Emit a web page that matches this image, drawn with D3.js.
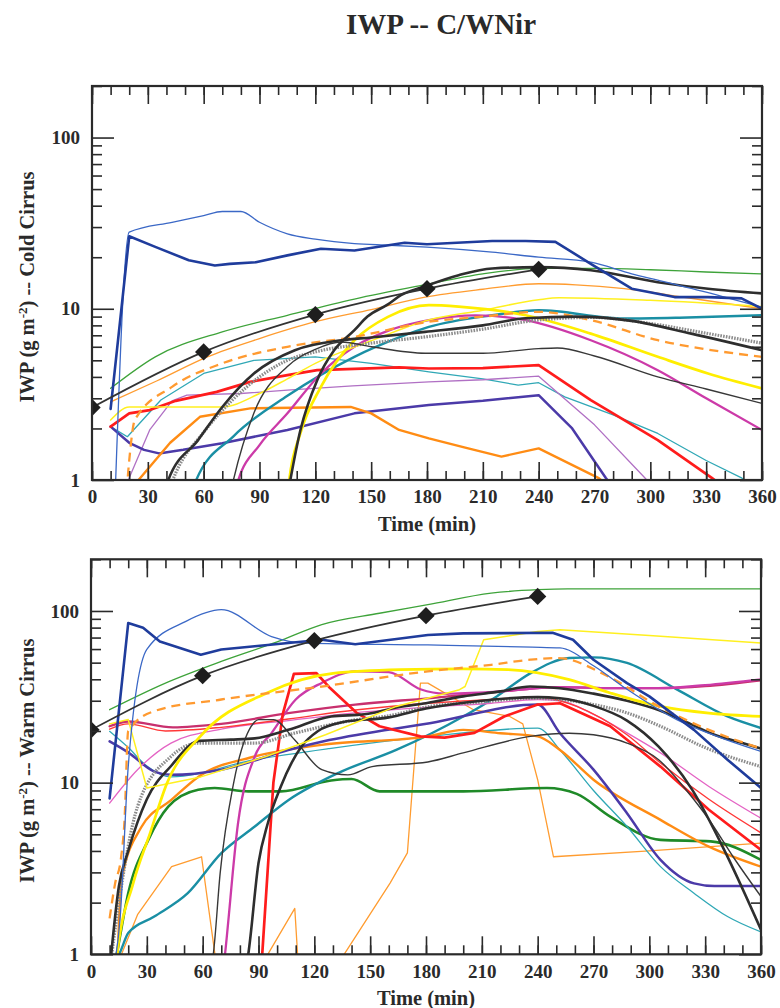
<!DOCTYPE html>
<html>
<head>
<meta charset="utf-8">
<script src="https://cdn.jsdelivr.net/npm/d3@7"></script>
<style>
  body { margin: 0; background: #fff; }
  svg { display: block; }
</style>
</head>
<body>
<svg id="chart" width="780" height="1008"></svg>
<script>
// ---------- axis values ----------
const timeTicks = [0, 30, 60, 90, 120, 150, 180, 210, 240, 270, 300, 330, 360];
const timeMinorTicks = d3.range(0, 361, 10);
const iwpTicks = [1, 10, 100];
const iwpMinorTicks = [2, 3, 4, 5, 6, 7, 8, 9, 20, 30, 40, 50, 60, 70, 80, 90, 200];

// ---------- Cold Cirrus: [time (min), IWP (g m^-2)] ----------
const coldBlueThick = [[10,2.6],[20,26.5],[34,23],[52,19.2],[66,17.9],[74,18.3],[88,18.7],[105,20.5],[123,22.4],[141,21.9],[168,24.3],[180,23.8],[215,24.9],[233,24.9],[249,24.6],[268,18.3],[290,13.1],[313,11.7],[331,11.7],[349,11.5],[360,10.0]];
const coldBlueThin = [[12,0.6],[20,28],[43,32],[60,35],[70,37],[80,37],[90,32],[105,27.4],[120,25.5],[141,24],[160,23.5],[180,22.9],[215,21.4],[240,20],[268,18.7],[290,16],[304,14.7],[330,12.5],[360,10.2]];
const coldGreen = [[10,3.43],[34,5.24],[70,7.33],[105,9.16],[141,11.4],[177,13.7],[210,16.0],[240,17.2],[272,17.2],[300,16.9],[330,16.4],[360,16.0]];
const coldDiamond = [[0,2.65],[60,5.6],[120,9.25],[180,13.1],[240,17.0]];
const coldBlackSteep = [[104,0.7],[112,1.96],[121,3.83],[130,5.7],[141,7.5],[148,9.0],[159,10.6],[166,12],[177,13.3],[197,15.7],[215,17.2],[240,17.5],[268,16.8],[304,14.3],[331,13.1],[360,12.3]];
const coldBlackSat = [[38,0.8],[41,1],[57,1.71],[70,2.67],[87,4.19],[109,5.73],[134,6.55],[150,6.8],[179,7.33],[210,8.0],[233,8.8],[260,9.0],[290,8.5],[322,7.16],[360,5.73]];
const coldGrayDotted = [[40,0.8],[45,1.1],[60,1.9],[75,2.9],[90,4.0],[105,5.0],[120,5.6],[150,6.3],[179,6.85],[210,7.6],[240,8.6],[270,8.9],[300,8.2],[330,7.2],[360,6.3]];
const coldBlackThin = [[74,0.8],[76,1],[87,2.46],[105,4.6],[120,5.8],[134,6.4],[150,6.0],[179,5.5],[210,5.5],[240,5.85],[250,5.9],[270,5.3],[304,4.0],[330,3.4],[360,2.8]];
const coldOrangeThin = [[10,2.86],[35,3.8],[62,5.24],[90,6.7],[120,8.4],[150,9.9],[179,11.7],[210,13.0],[240,14.0],[260,13.8],[286,13.1],[320,11.6],[360,10.0]];
const coldYellowThin = [[10,2.24],[20,2.67],[45,2.67],[70,2.67],[90,3.2],[105,3.9],[120,4.8],[150,6.5],[181,8.6],[210,9.8],[240,11.3],[251,11.6],[300,11.2],[360,10.3]];
const coldYellowThick = [[105,0.8],[106,1],[112,1.88],[123,3.5],[141,6.55],[159,8.97],[181,10.5],[197,10.3],[233,9.16],[268,7.16],[304,5.24],[331,4.19],[360,3.43]];
const coldOrangeDashed = [[18,0.7],[20,1.3],[23,2.24],[43,3.5],[70,4.8],[105,6.0],[141,6.85],[181,8.4],[210,9.0],[240,9.6],[268,8.58],[304,6.55],[330,5.8],[360,5.24]];
const coldTealThin = [[10,2.05],[19,1.79],[37,2.93],[60,4.19],[87,5.0],[120,5.24],[150,4.8],[181,4.28],[210,3.9],[229,3.58],[240,3.7],[254,3.06],[280,2.4],[304,1.87],[330,1.3],[349,1.03],[355,0.9]];
const coldRed = [[10,2.05],[20,2.45],[31,2.56],[45,2.9],[67,3.27],[85,3.74],[105,4.1],[121,4.38],[165,4.55],[181,4.48],[210,4.5],[240,4.69],[268,2.93],[304,1.71],[333,1.03],[340,0.9]];
const coldPurpleThin = [[17,0.7],[19.5,1],[31,1.96],[43,2.9],[51,3.13],[80,3.2],[105,3.35],[140,3.55],[181,3.74],[210,3.85],[240,4.04],[270,2.1],[297,1.03],[300,0.95]];
const coldMagenta = [[76,0.8],[78.6,1],[90,1.6],[105,2.45],[123,4.19],[141,6.0],[160,7.5],[181,8.58],[206,9.16],[233,8.58],[268,6.55],[304,4.38],[330,3.0],[360,1.96]];
const coldIndigo = [[10,2.05],[20,1.65],[28,1.5],[36,1.43],[49,1.5],[70,1.64],[105,1.96],[141,2.45],[181,2.74],[210,2.9],[240,3.13],[258,2.0],[276,1.03],[280,0.9]];
const coldOrangeThick = [[22,0.8],[25,1],[42,1.65],[58,2.34],[85,2.62],[139,2.67],[150,2.45],[165,1.96],[181,1.75],[200,1.55],[220,1.37],[240,1.53],[272,1.03],[276,0.95]];
const coldTealThick = [[54,0.8],[56,1],[76,1.8],[105,3.1],[141,5.24],[165,6.8],[181,7.83],[215,9.16],[240,9.8],[286,8.77],[320,8.9],[360,9.16]];

// ---------- Warm Cirrus: [time (min), IWP (g m^-2)] ----------
const warmGreenThin = [[10,26.6],[40,38],[70,50.8],[100,66],[124,83.3],[155,97],[181,108.8],[215,127],[240,133],[256,134.5],[300,134.5],[360,134.5]];
const warmDiamond = [[0,20.3],[60,42],[120,67.2],[180,93.9],[240,121.6]];
const warmBlueThick = [[10,8.1],[20,85],[28,79.8],[37,66.5],[59,55.6],[70,59.7],[88,62.3],[124,68],[142,64],[181,72.5],[200,74],[248,74.6],[259,68],[270,52],[288,38],[300,31.8],[324,20.3],[342,13.6],[360,9.3]];
const warmBlueThin = [[12,0.8],[15.7,1.65],[20,12.4],[30,59.7],[51,87],[70,101.7],[97,71],[115,65],[181,63.4],[237,61.6],[252,60.9],[270,48],[288,35],[315,23.2],[340,18],[360,15.2]];
const warmYellowThin = [[10,22],[20,23.3],[30,9.3],[59,10.8],[94,14.2],[126,19],[164,27.8],[198,34.8],[201,36.3],[211,68],[240,76],[252,77.8],[300,72],[360,65.1]];
const warmYellowThick = [[13,0.8],[14,1],[22.7,2.6],[31.8,5.1],[40.8,9.9],[58.7,18.6],[94.5,33.3],[130,43.3],[166,45.5],[200,46],[224,45.5],[257,39.8],[279,33.3],[306,27.8],[332,25.4],[360,24.3]];
const warmOrangeDashed = [[10,1.62],[13,2.6],[16,3.55],[18,6],[20,20],[34,26.1],[70,30.5],[124,36.3],[181,44.5],[215,48.6],[236,52],[251,53.2],[278,41.5],[305,27.8],[332,20.3],[360,15.8]];
const warmCrimson = [[10,21.3],[20,22.7],[44,21],[70,22],[106,25.4],[142,28.5],[181,31],[215,33.5],[252,36],[280,35.5],[305,35.5],[330,36.5],[360,39.5]];
const warmRedThin = [[10,20.5],[20,22],[40,20],[70,21],[106,23.5],[142,26.5],[181,29],[215,30.5],[240,31.5],[252,30],[261,27.8],[288,19],[306,13],[332,8],[360,5.1]];
const warmPinkThin = [[10,7.6],[25,11.9],[43,17],[70,20.5],[106,23],[142,25.5],[181,27.5],[215,29],[240,30.5],[252,30],[270,25],[288,19.5],[306,14.9],[332,9.5],[360,6.2]];
const warmPurple = [[71,0.8],[72,1],[79,5.8],[88,14.2],[97,19.4],[110,30.5],[124,38.1],[142,44.5],[160,44],[177,35],[190,33],[220,34],[252,36],[280,35.5],[305,35.5],[330,37],[360,40]];
const warmRedThick = [[91,0.8],[92,1],[98,10],[103,25],[109,43],[121,43.5],[128,36],[143,25.4],[155,21.3],[177,18.6],[190,18.3],[206,19.5],[222,24.3],[240,28.5],[252,29],[279,21.3],[306,12.4],[332,6.95],[360,4.06]];
const warmIndigo = [[10,17.4],[20,15],[34,11.6],[43,11.1],[70,11.9],[106,15.5],[128,17.7],[182,22.2],[240,28.5],[252,19.4],[270,11.9],[288,6.64],[306,3.55],[324,2.59],[335,2.5],[360,2.5]];
const warmOrangeThick = [[14,0.8],[15,1.5],[16.4,2.7],[27,5.5],[43,7.9],[57.6,10.8],[88,14.2],[124,16.6],[181,18.6],[200,20.3],[220,19.4],[240,18.6],[252,15.5],[270,10.4],[306,6.07],[332,4.24],[360,3.24]];
const warmTealThin = [[10,19.9],[20,16],[30,12.5],[43,10.8],[88,13.6],[128,15.8],[182,18.6],[240,20.8],[252,15.5],[270,9],[288,5.55],[306,3.24],[324,2.27],[342,1.66],[360,1.35]];
const warmTealThick = [[13,0.9],[16,1.05],[20,1.33],[34,1.66],[52,2.27],[70,3.88],[88,5.55],[106,7.9],[133,11.4],[164,15.5],[200,24.3],[218,31.8],[236,43.3],[257,53.2],[270,53.7],[288,49.8],[315,34.8],[342,24.3],[360,20.8]];
const warmGreenThick = [[12,0.8],[13.8,1],[20,2.27],[30.8,4.64],[41.5,7.25],[57.6,9.1],[66.5,9.3],[84.5,8.9],[102,8.9],[129,10.3],[140,10.5],[155,8.9],[200,8.9],[245,9.3],[261,8.6],[279,6.34],[306,4.64],[333,4.55],[360,3.55]];
const warmOrangeThin = [[15,0.7],[16.4,1],[25,1.7],[43.3,3.24],[59.4,3.7],[66.6,1],[68,0.7],[93,0.7],[95,1],[109.5,1.85],[111,1],[112,0.7],[134,0.7],[136,1],[160.7,2.6],[170,3.9],[177,38],[181,38],[205.5,26.6],[225,24.3],[232,22],[240,10.4],[248.5,3.7],[300,4.0],[360,4.44]];
const warmBlackA = [[10,0.8],[15,2.5],[20,4],[30,8],[43,12.5],[58,17.5],[75,17.8],[88,18.1],[106,20.3],[129,24.3],[147,25],[165,27.5],[180,29],[200,31.8],[220,34],[236,36.3],[252,35.5],[270,33],[288,30],[305,26.5],[320,22.5],[335,19],[350,17],[360,15.8]];
const warmBlackB = [[83,0.8],[84.5,1],[90,3.4],[95,5.8],[102,9.5],[113,16.2],[122,20],[135,22.5],[160,24],[180,27],[210,30],[240,31.5],[252,31],[270,28],[288,23],[305,16.2],[323,9.1],[341,3.9],[360,1.39]];
const warmBlackC = [[64,0.8],[65.7,1],[69.4,2.97],[76.6,9.9],[87.3,22.2],[90,23.3],[98,23.3],[109.5,17.7],[124,11.9],[138,11.1],[151,12.4],[181,13.2],[200,14.9],[236,18.6],[257,19.4],[270,19],[288,17],[305,13.6],[320,9],[332,6.1],[345,3.7],[360,2.17]];
const warmGrayDotted = [[10,0.8],[15,2],[25,7.25],[43,14.2],[58,17],[88,17],[110,19.5],[142,23.2],[160,24.5],[182,27.8],[210,29.5],[236,31],[252,30.5],[270,28.5],[288,25.5],[306,21.3],[330,16],[360,12.4]];

// ---------- line styles ----------
const styles = {
  blueThick:   { color: "#1f3c9c", width: 2.6 },
  blueThin:    { color: "#3b68c6", width: 1.3 },
  greenThin:   { color: "#3ea33a", width: 1.3 },
  greenThick:  { color: "#1f8a28", width: 2.6 },
  diamond:     { color: "#333333", width: 1.7 },
  blackThick:  { color: "#2e2e2e", width: 2.6 },
  blackThin:   { color: "#383838", width: 1.4 },
  grayDotted:  { color: "#8c8c8c", width: 3.2, dash: "1.6,1.2" },
  orangeThin:  { color: "#ff9c30", width: 1.3 },
  orangeThick: { color: "#ff8c14", width: 2.4 },
  orangeDash:  { color: "#ff9a30", width: 2.3, dash: "9,6" },
  yellowThin:  { color: "#fff020", width: 1.5 },
  yellowThick: { color: "#ffee00", width: 2.7 },
  tealThin:    { color: "#30a8b6", width: 1.3 },
  tealThick:   { color: "#1a8fa4", width: 2.4 },
  red:         { color: "#ff1c1c", width: 2.7 },
  redThin:     { color: "#ff3838", width: 1.4 },
  crimson:     { color: "#c8306e", width: 2.3 },
  magenta:     { color: "#cc3aa8", width: 2.3 },
  lavender:    { color: "#b070c4", width: 1.3 },
  pinkThin:    { color: "#e464c4", width: 1.3 },
  indigo:      { color: "#4b3aa8", width: 2.5 }
};

const coldSeries = [
  { data: coldOrangeThin, style: "orangeThin" },
  { data: coldGreen, style: "greenThin" },
  { data: coldTealThin, style: "tealThin", sharp: true },
  { data: coldPurpleThin, style: "lavender", sharp: true },
  { data: coldIndigo, style: "indigo", sharp: true },
  { data: coldOrangeThick, style: "orangeThick", sharp: true },
  { data: coldRed, style: "red", sharp: true },
  { data: coldTealThick, style: "tealThick" },
  { data: coldMagenta, style: "magenta" },
  { data: coldYellowThin, style: "yellowThin" },
  { data: coldYellowThick, style: "yellowThick" },
  { data: coldOrangeDashed, style: "orangeDash" },
  { data: coldGrayDotted, style: "grayDotted" },
  { data: coldBlackSat, style: "blackThick" },
  { data: coldBlackThin, style: "blackThin" },
  { data: coldBlackSteep, style: "blackThick" },
  { data: coldBlueThin, style: "blueThin" },
  { data: coldBlueThick, style: "blueThick", sharp: true },
  { data: coldDiamond, style: "diamond", marks: true }
];

const warmSeries = [
  { data: warmOrangeThin, style: "orangeThin", sharp: true },
  { data: warmGreenThin, style: "greenThin" },
  { data: warmGreenThick, style: "greenThick" },
  { data: warmTealThin, style: "tealThin" },
  { data: warmTealThick, style: "tealThick" },
  { data: warmOrangeThick, style: "orangeThick" },
  { data: warmIndigo, style: "indigo" },
  { data: warmPinkThin, style: "pinkThin" },
  { data: warmRedThin, style: "redThin" },
  { data: warmCrimson, style: "crimson" },
  { data: warmPurple, style: "magenta" },
  { data: warmRedThick, style: "red", sharp: true },
  { data: warmGrayDotted, style: "grayDotted" },
  { data: warmBlackC, style: "blackThin" },
  { data: warmBlackB, style: "blackThick" },
  { data: warmBlackA, style: "blackThick" },
  { data: warmYellowThin, style: "yellowThin", sharp: true },
  { data: warmYellowThick, style: "yellowThick" },
  { data: warmOrangeDashed, style: "orangeDash" },
  { data: warmBlueThin, style: "blueThin" },
  { data: warmBlueThick, style: "blueThick", sharp: true },
  { data: warmDiamond, style: "diamond", marks: true }
];

const panels = [
  { key: "cold", label: "Cold Cirrus", left: 92, right: 762, top: 86, bottom: 480, series: coldSeries },
  { key: "warm", label: "Warm Cirrus", left: 91, right: 761, top: 559.3, bottom: 954.3, series: warmSeries }
];

const FONT = "'Liberation Serif','Times New Roman',Times,serif";
const INK = "#2a2a2a";
const svg = d3.select("#chart");

svg.append("text")
  .attr("x", 441).attr("y", 34)
  .attr("text-anchor", "middle")
  .attr("font-family", FONT).attr("font-weight", "bold").attr("font-size", 29)
  .attr("fill", INK)
  .text("IWP -- C/WNir");

function styleAxis(g, labels) {
  g.select(".domain").remove();
  g.selectAll(".tick line").attr("stroke", INK).attr("stroke-width", 1.6);
  g.selectAll(".tick text")
    .attr("font-family", FONT).attr("font-weight", "bold").attr("font-size", 19)
    .attr("fill", INK)
    .style("display", labels ? null : "none");
}

panels.forEach(p => {
  const x = d3.scaleLinear().domain([0, 360]).range([p.left, p.right]);
  const y = d3.scaleLog().domain([1, 200]).range([p.bottom, p.top]);
  const g = svg.append("g");

  const clipId = "clip-" + p.key;
  svg.append("clipPath").attr("id", clipId)
    .append("rect")
    .attr("x", p.left).attr("y", p.top)
    .attr("width", p.right - p.left).attr("height", p.bottom - p.top);

  const plot = g.append("g").attr("clip-path", `url(#${clipId})`);

  p.series.forEach(s => {
    const st = styles[s.style];
    const line = d3.line()
      .x(d => x(d[0]))
      .y(d => y(d[1]))
      .curve(s.sharp ? d3.curveLinear : d3.curveMonotoneX);
    plot.append("path")
      .datum(s.data)
      .attr("fill", "none")
      .attr("stroke", st.color)
      .attr("stroke-width", st.width)
      .attr("stroke-dasharray", st.dash || null)
      .attr("stroke-linejoin", "round")
      .attr("stroke-linecap", st.dash ? "butt" : "round")
      .attr("d", line);
    if (s.marks) {
      plot.selectAll(null)
        .data(s.data)
        .enter().append("path")
        .attr("d", d3.symbol().type(d3.symbolSquare).size(150))
        .attr("transform", d => `translate(${x(d[0])},${y(d[1])}) rotate(45)`)
        .attr("fill", "#1e1e1e");
    }
  });

  // time axes: ticks pointing inward on bottom and top
  g.append("g").attr("transform", `translate(0,${p.bottom})`)
    .call(d3.axisBottom(x).tickValues(timeMinorTicks).tickSize(-9).tickFormat(""))
    .call(a => styleAxis(a, false));
  g.append("g").attr("transform", `translate(0,${p.bottom})`)
    .call(d3.axisBottom(x).tickValues(timeTicks).tickSize(-18).tickPadding(10).tickFormat(d3.format("d")))
    .call(a => styleAxis(a, true));
  g.append("g").attr("transform", `translate(0,${p.top})`)
    .call(d3.axisTop(x).tickValues(timeMinorTicks).tickSize(-9).tickFormat(""))
    .call(a => styleAxis(a, false));
  g.append("g").attr("transform", `translate(0,${p.top})`)
    .call(d3.axisTop(x).tickValues(timeTicks).tickSize(-18).tickFormat(""))
    .call(a => styleAxis(a, false));

  // IWP axes: log ticks pointing inward on left and right
  g.append("g").attr("transform", `translate(${p.left},0)`)
    .call(d3.axisLeft(y).tickValues(iwpMinorTicks).tickSize(-10).tickFormat(""))
    .call(a => styleAxis(a, false));
  g.append("g").attr("transform", `translate(${p.left},0)`)
    .call(d3.axisLeft(y).tickValues(iwpTicks).tickSize(-22).tickPadding(12).tickFormat(d3.format("d")))
    .call(a => styleAxis(a, true));
  g.append("g").attr("transform", `translate(${p.right},0)`)
    .call(d3.axisRight(y).tickValues(iwpMinorTicks).tickSize(-10).tickFormat(""))
    .call(a => styleAxis(a, false));
  g.append("g").attr("transform", `translate(${p.right},0)`)
    .call(d3.axisRight(y).tickValues(iwpTicks).tickSize(-22).tickFormat(""))
    .call(a => styleAxis(a, false));

  // frame
  g.append("rect")
    .attr("x", p.left).attr("y", p.top)
    .attr("width", p.right - p.left).attr("height", p.bottom - p.top)
    .attr("fill", "none").attr("stroke", INK).attr("stroke-width", 2.2);

  // axis titles
  g.append("text")
    .attr("x", (p.left + p.right) / 2).attr("y", p.bottom + 51)
    .attr("text-anchor", "middle")
    .attr("font-family", FONT).attr("font-weight", "bold").attr("font-size", 20.5)
    .attr("fill", INK)
    .text("Time (min)");

  const yl = g.append("text")
    .attr("transform", `translate(34,${(p.top + p.bottom) / 2 + 4}) rotate(-90)`)
    .attr("text-anchor", "middle")
    .attr("font-family", FONT).attr("font-weight", "bold").attr("font-size", 20.5)
    .attr("fill", INK);
  yl.append("tspan").text("IWP (g m");
  yl.append("tspan").attr("dy", -7).attr("font-size", 13).text("-2");
  yl.append("tspan").attr("dy", 7).text(") -- " + p.label);
});
</script>
</body>
</html>
